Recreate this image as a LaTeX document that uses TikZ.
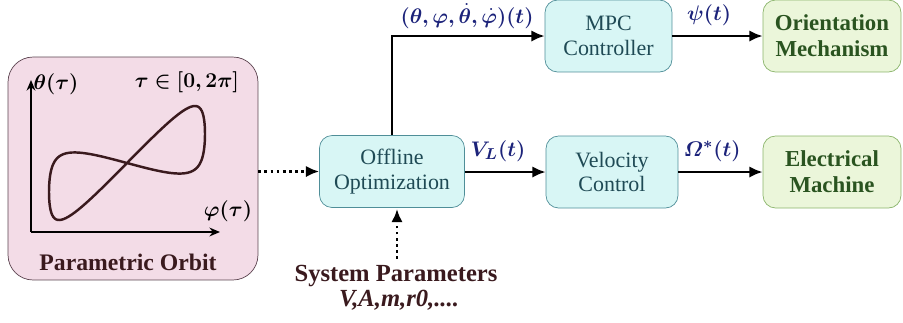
\documentclass[tikz,border=0pt]{standalone}
\usepackage{amsmath}
\usepackage{bm}
\usepackage{fontspec}
\setmainfont{Liberation Serif}
\usetikzlibrary{arrows.meta,positioning}

\definecolor{orbitfill}{HTML}{F3DCE7}
\definecolor{orbitline}{HTML}{5C4450}
\definecolor{ctrlfill}{HTML}{D8F6F5}
\definecolor{ctrlline}{HTML}{4F8E98}
\definecolor{ctrltext}{HTML}{1F4A55}
\definecolor{plantfill}{HTML}{EBF6DA}
\definecolor{plantline}{HTML}{8AB46A}
\definecolor{planttext}{HTML}{2A5420}
\definecolor{sigblue}{HTML}{1C237A}
\definecolor{parmtext}{HTML}{3A1A1E}

\tikzset{
  ctrlbox/.style={draw=ctrlline, fill=ctrlfill, rounded corners=0.25cm, thin,
    minimum width=2.6cm, minimum height=1.44cm, align=center, text=ctrltext,
    font=\fontsize{12.5}{14}\selectfont},
  plantbox/.style={draw=plantline, fill=plantfill, rounded corners=0.25cm, thin,
    minimum width=2.76cm, minimum height=1.44cm, align=center, text=planttext,
    font=\fontsize{13}{15}\selectfont\bfseries},
  sig/.style={-{Latex[length=7.5pt,width=6.5pt]}, line width=1.5pt},
  feed/.style={-{Latex[length=7.5pt,width=6.5pt]}, line width=1.5pt, dotted},
  siglabel/.style={text=sigblue, font=\fontsize{13}{15}\selectfont}
}

\begin{document}
\begin{tikzpicture}[x=0.02cm,y=-0.02cm]
\useasboundingbox (0,0) rectangle (903,322);

% orbit panel
\node[draw=orbitline, fill=orbitfill, rounded corners=0.5cm, thin,
  minimum width=5cm, minimum height=4.46cm] (orbit) at (133,168.5) {};
\coordinate (o) at (31,232);
\draw[-{Stealth[length=6pt,width=5pt]}, line width=1.1pt] (o) -- (31,80) coordinate (ytip);
\draw[-{Stealth[length=6pt,width=5pt]}, line width=1.1pt] (o) -- (220,232) coordinate (xtip);
\node[font=\fontsize{13}{15}\selectfont] (ylab) at (56,84) {$\bm{\theta(\tau)}$};
\node[font=\fontsize{13}{15}\selectfont] (tlab) at (187,82) {$\bm{\tau\in[0,2\pi]}$};
\node[font=\fontsize{13}{15}\selectfont] (xlab) at (228,211) {$\bm{\varphi(\tau)}$};
\node[font=\fontsize{13.5}{15}\selectfont\bfseries, text=parmtext] (orbitname) at (128,262) {Parametric Orbit};
\draw[line width=1.4pt, draw=parmtext] plot[smooth cycle, domain=0:357, samples=120, variable=\t]
  ({127+78*(sin(\t)+0.07*sin(3*\t))/0.93},
   {163-29*(sin(\t)+0.07*sin(3*\t))/0.93-65*sin(\t)*cos(\t)});

% blocks
\node[ctrlbox, minimum width=2.9cm] (opt) at (392,171.5) {Offline\\Optimization};
\node[ctrlbox, minimum width=2.54cm] (mpc) at (608.5,36) {MPC\\Controller};
\node[ctrlbox, minimum width=2.64cm] (vel) at (612,172) {Velocity\\Control};
\node[plantbox] (orient) at (832,36) {Orientation\\Mechanism};
\node[plantbox] (elec) at (832,172) {Electrical\\Machine};

% parameters
\node[font=\fontsize{14}{16}\selectfont\bfseries, text=parmtext] (params) at (396,276) {System Parameters};
\node[font=\fontsize{14}{16}\selectfont\bfseries\itshape, text=parmtext] (pvals) at (399,300) {V,A,m,r0,....};

% connectors
\draw[feed] (orbit.east |- opt.west) -- (opt.west);
\draw[feed] (params.north -| 397,0) -- (397,209);
\draw[sig] (opt.north) |- (mpc.west);
\draw[sig] (opt.east |- vel.west) -- (vel.west);
\draw[sig] (mpc.east) -- (orient.west);
\draw[sig] (vel.east) -- (elec.west);

% signal labels
\node[siglabel] (lang) at (467,16) {$\bm{(\theta,\varphi,\dot{\theta},\dot{\varphi})(t)}$};
\node[siglabel] (lvl) at (498,151) {$\bm{V_L(t)}$};
\node[siglabel] (lpsi) at (709,15) {$\bm{\psi(t)}$};
\node[siglabel] (lom) at (712,151) {$\bm{\varOmega^{*}(t)}$};
\end{tikzpicture}
\end{document}
